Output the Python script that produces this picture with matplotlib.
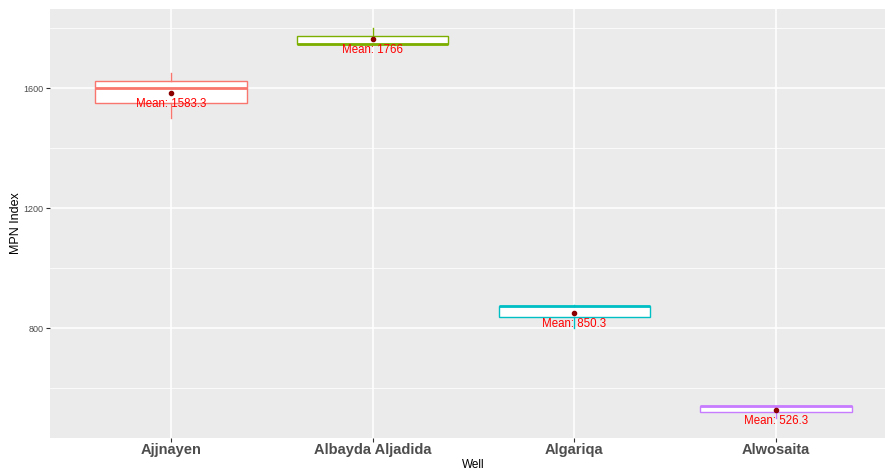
import matplotlib.pyplot as plt
import numpy as np

wells = ["Ajjnayen", "Albayda Aljadida", "Algariqa", "Alwosaita"]
# MPN index observations per well
mpn_values = [
    [1500, 1600, 1650],
    [1749, 1749, 1800],
    [800, 875, 876],
    [500, 539, 540],
]
colors = ["#F8766D", "#7CAE00", "#00BFC4", "#C77CFF"]

plt.rcParams['font.family'] = ['Liberation Sans', 'DejaVu Sans']

fig = plt.figure(figsize=(8.85, 4.71), dpi=100)
ax = fig.add_axes([50 / 885, (471 - 437.5) / 471, 847 / 885, (437.5 - 9) / 471])
ax.set_facecolor("#EBEBEB")

positions = np.arange(1, len(wells) + 1)
bp = ax.boxplot(mpn_values, positions=positions, widths=0.75, patch_artist=True,
                showfliers=False, showcaps=False, whis=1.5, zorder=3)
for i, c in enumerate(colors):
    bp['boxes'][i].set(facecolor="white", edgecolor=c, linewidth=1.0)
    bp['medians'][i].set(color=c, linewidth=2.0)
    for w in bp['whiskers'][2 * i:2 * i + 2]:
        w.set(color=c, linewidth=1.0)

means = [np.mean(v) for v in mpn_values]
for x, m in zip(positions, means):
    ax.scatter(x, m, s=9, color="#8B0000", zorder=5)
    label = "Mean: %g" % round(m, 1) if m != int(m) else "Mean: %d" % m
    ax.annotate(label, (x, m), xytext=(0, -5), textcoords="offset pixels",
                ha="center", va="top", color="#FF0000", fontsize=8.3, zorder=6)

ax.set_xlim(0.4, 4.6)
ax.set_ylim(435, 1865)
ax.set_xticks(positions)
ax.set_xticklabels(wells, fontsize=10.5, fontweight="bold", color="#4D4D4D")
ax.set_yticks([800, 1200, 1600])
ax.set_yticks([600, 1000, 1400, 1800], minor=True)
ax.tick_params(axis="y", labelsize=6.5, labelcolor="#4D4D4D", color="#333333", length=3, width=0.8, pad=1.5)
ax.tick_params(axis="x", color="#333333", length=3, width=0.8, pad=1)
ax.tick_params(axis="y", which="minor", length=0)
ax.grid(True, which="major", color="white", linewidth=1.1, zorder=0)
ax.grid(True, which="minor", axis="y", color="white", linewidth=0.55, zorder=0)
ax.set_axisbelow(True)
for s in ax.spines.values():
    s.set_visible(False)

ax.set_xlabel("Well", fontsize=8.5, labelpad=1.5)
ax.set_ylabel("MPN Index", fontsize=9, labelpad=1)

fig.savefig("out.png", dpi=100)
